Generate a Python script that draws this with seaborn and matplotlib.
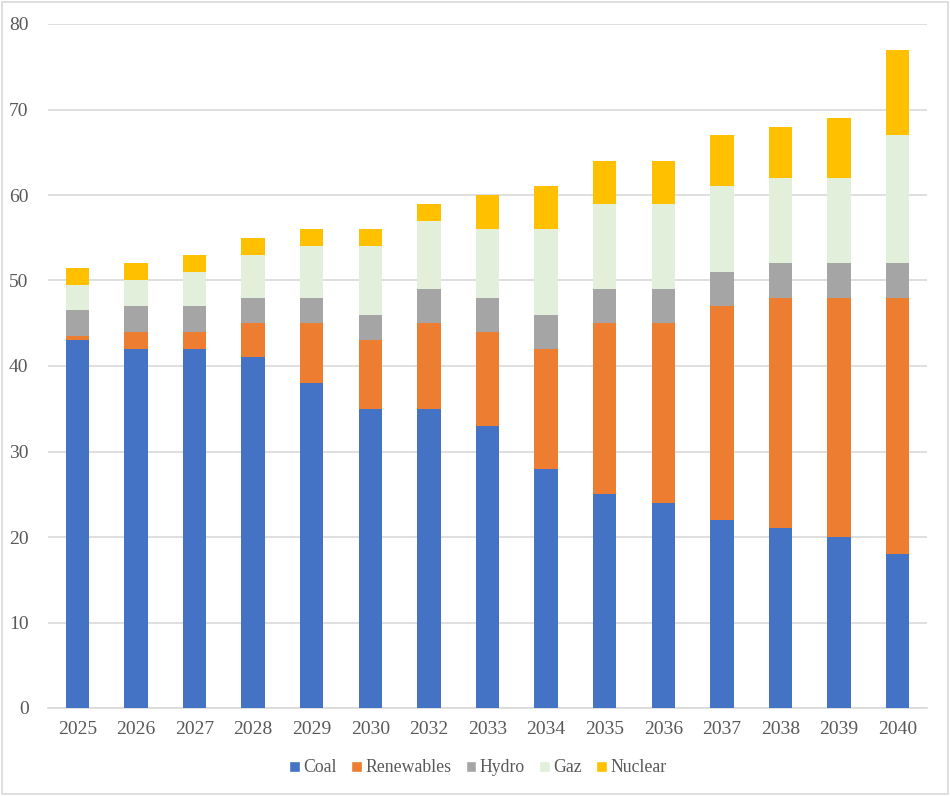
import numpy as np
import pandas as pd
import matplotlib
matplotlib.use("Agg")
import matplotlib.pyplot as plt
from matplotlib.patches import Patch, Rectangle
import seaborn as sns

years = ["2025", "2026", "2027", "2028", "2029", "2030", "2032", "2033",
         "2034", "2035", "2036", "2037", "2038", "2039", "2040"]
coal = [43, 42, 42, 41, 38, 35, 35, 33, 28, 25, 24, 22, 21, 20, 18]
renewables = [0.5, 2, 2, 4, 7, 8, 10, 11, 14, 20, 21, 25, 27, 28, 30]
hydro = [3, 3, 3, 3, 3, 3, 4, 4, 4, 4, 4, 4, 4, 4, 4]
gaz = [3, 3, 4, 5, 6, 8, 8, 8, 10, 10, 10, 10, 10, 10, 15]
nuclear = [2, 2, 2, 2, 2, 2, 2, 4, 5, 5, 5, 6, 6, 7, 10]

series = ["Coal", "Renewables", "Hydro", "Gaz", "Nuclear"]
colors = ["#4472C4", "#ED7D31", "#A5A5A5", "#E2EFDA", "#FFC000"]

df = pd.DataFrame({"year": years, "Coal": coal, "Renewables": renewables,
                   "Hydro": hydro, "Gaz": gaz, "Nuclear": nuclear})
cum = df[series].cumsum(axis=1)

sns.set_style("white")
plt.rcParams["font.family"] = ["Liberation Serif", "DejaVu Serif"]
txt = "#595959"

fig = plt.figure(figsize=(9.5, 7.96), dpi=100)
ax = fig.add_axes([48 / 950, 88 / 796, 879 / 950, 684 / 796])

# draw from the top of the stack down so each layer covers the one above
for name, col in reversed(list(zip(series, colors))):
    sns.barplot(x=df["year"], y=cum[name], color=col, width=0.4,
                saturation=1, linewidth=0, edgecolor="none", ax=ax, zorder=3)

ax.set_ylim(0, 80)
ax.set_xlim(-0.5, 14.5)
ax.set_yticks(range(0, 81, 10))
ax.yaxis.grid(True, color="#d9d9d9", linewidth=1.2, zorder=0)
ax.set_axisbelow(True)
for s in ["top", "right", "left"]:
    ax.spines[s].set_visible(False)
ax.spines["bottom"].set_color("#d9d9d9")
ax.spines["bottom"].set_linewidth(1.2)
ax.set_xlabel("")
ax.set_ylabel("")
ax.tick_params(axis="both", length=0, labelsize=14, colors=txt)
ax.tick_params(axis="x", pad=9)
ax.tick_params(axis="y", pad=14)

handles = [Patch(facecolor=c, label=n) for n, c in zip(series, colors)]
fig.legend(handles=handles, loc="center", bbox_to_anchor=(478 / 950, 1 - 768 / 796),
           ncol=5, frameon=False, fontsize=12.8, handlelength=0.6, handleheight=0.6,
           handletextpad=0.2, columnspacing=0.8, labelcolor=txt)

fig.patches.append(Rectangle((0.002, 0.002), 0.996, 0.996, transform=fig.transFigure,
                             fill=False, edgecolor="#d9d9d9", linewidth=1.2))

fig.savefig("out.png", dpi=100)
